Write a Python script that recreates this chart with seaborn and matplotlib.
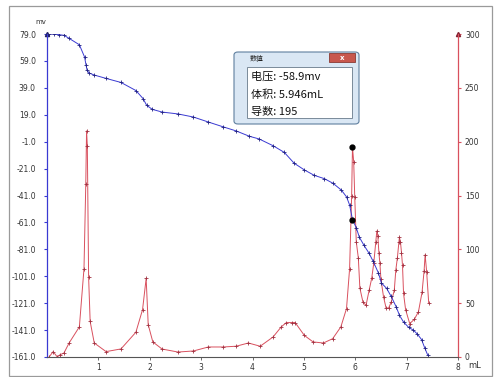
import numpy as np
import pandas as pd
import matplotlib
matplotlib.use("Agg")
import matplotlib.pyplot as plt
from matplotlib.patches import Rectangle, FancyBboxPatch
import seaborn as sns

# ---- data ----
vol_blue = [0.045, 0.14, 0.24, 0.33, 0.42, 0.63, 0.73, 0.76, 0.78, 0.82, 0.92, 1.15, 1.44,
            1.73, 1.87, 1.94, 2.05, 2.24, 2.55, 2.85, 3.14, 3.43, 3.68, 3.94, 4.13, 4.40,
            4.62, 4.81, 5.01, 5.20, 5.40, 5.57, 5.73, 5.83, 5.89, 5.946, 6.02, 6.08, 6.17,
            6.27, 6.35, 6.45, 6.51, 6.61, 6.70, 6.80, 6.86, 6.94, 7.04, 7.13, 7.21, 7.29,
            7.35, 7.41]
mv_blue = [79.0, 79.0, 78.5, 78.0, 76.0, 71.0, 62.0, 56.0, 52.0, 50.0, 48.5, 46.0, 43.0,
           37.0, 31.0, 26.0, 23.0, 21.0, 19.6, 17.3, 13.6, 10.0, 7.0, 3.0, 1.0, -4.0,
           -9.0, -17.0, -22.0, -26.0, -28.5, -32.0, -37.0, -42.0, -48.0, -58.9, -65.0, -72.0, -78.0,
           -84.0, -90.0, -98.5, -106.0, -110.0, -116.0, -124.0, -130.0, -135.0, -139.0, -141.0, -144.0, -148.0,
           -154.0, -159.5]

vol_red = [0.04, 0.12, 0.20, 0.25, 0.33, 0.43, 0.63, 0.72, 0.755, 0.77, 0.785, 0.81, 0.84,
           0.92, 1.15, 1.44, 1.73, 1.86, 1.93, 1.97, 2.06, 2.24, 2.55, 2.85, 3.14, 3.43,
           3.68, 3.92, 4.15, 4.40, 4.56, 4.66, 4.76, 4.83, 5.01, 5.18, 5.38, 5.56, 5.72,
           5.83, 5.89, 5.93, 5.946, 5.97, 5.99, 6.02, 6.06, 6.09, 6.15, 6.21, 6.27, 6.32,
           6.36, 6.40, 6.42, 6.44, 6.46, 6.48, 6.50, 6.55, 6.60, 6.65, 6.70, 6.76, 6.79,
           6.82, 6.85, 6.86, 6.88, 6.90, 6.92, 6.94, 6.98, 7.06, 7.15, 7.23, 7.30, 7.34,
           7.36, 7.39, 7.43]
deriv_red = [0, 5, 0, 2, 3.7, 13, 28, 82, 161, 210, 196, 74, 33,
             13, 5, 7.5, 23, 44, 73, 30, 14, 7.4, 4.6, 5.6, 9.3, 9.3,
             10, 13, 10, 18.6, 28, 32, 32, 32, 20, 14, 13, 17, 28,
             45, 82, 150, 195, 181, 149, 107, 92, 64, 51, 48, 62, 73,
             87, 107, 117, 112, 97, 87, 72, 56, 45.5, 45.5, 51, 62, 81,
             92, 107, 111, 107, 97, 85, 59, 44, 31, 35, 42, 60, 80,
             95, 79, 50]

left_ticks = [79.0, 59.0, 39.0, 19.0, -1.0, -21.0, -41.0, -61.0, -81.0, -101.0, -121.0, -141.0, -161.0]
right_ticks = [0, 50, 100, 150, 200, 250, 300]
x_ticks = [1, 2, 3, 4, 5, 6, 7, 8]

sel_volume = 5.946
sel_voltage = -58.9
sel_deriv = 195

info_lines = ["电压: -58.9mv", "体积: 5.946mL", "导数: 195"]

df_blue = pd.DataFrame({"vol": vol_blue, "mv": mv_blue})
df_red = pd.DataFrame({"vol": vol_red, "d": deriv_red})

sns.set_theme(style="white")
plt.rcParams["font.family"] = ["DejaVu Sans"]

W, H = 495, 377
fig = plt.figure(figsize=(W / 100, H / 100), dpi=100)
fig.patch.set_facecolor("white")

def fx(px):
    return px / W

def fy(py):
    return 1 - py / H

ax = fig.add_axes([fx(47), fy(357), fx(458) - fx(47), fy(34) - fy(357)])
ax2 = ax.twinx()
ax.set_zorder(ax2.get_zorder() + 1)
ax.patch.set_visible(False)

blue = "#3a3ad2"
red = "#d9505e"

sns.lineplot(data=df_red, x="vol", y="d", ax=ax2, color=red, lw=0.7, sort=False,
             marker="+", markersize=2.5, markeredgewidth=0.6, markeredgecolor="#a03040", estimator=None)
sns.lineplot(data=df_blue, x="vol", y="mv", ax=ax, color=blue, lw=0.7, sort=False,
             marker="+", markersize=2.5, markeredgewidth=0.6, markeredgecolor="#202080", estimator=None)

ax.plot([sel_volume], [sel_voltage], "o", color="black", ms=3.5, zorder=10)
ax2.plot([sel_volume], [sel_deriv], "o", color="black", ms=3.5, zorder=10)

ax.set_xlim(0, 8)
ax.set_ylim(-161, 79)
ax2.set_ylim(0, 300)

ax.set_xticks(x_ticks)
ax.set_xticklabels([str(t) for t in x_ticks])
ax.set_yticks(left_ticks)
ax.set_yticklabels([f"{t:.1f}" for t in left_ticks])
ax2.set_yticks(right_ticks)
ax2.set_yticklabels([str(t) for t in right_ticks])

for a in (ax, ax2):
    a.set_xlabel("")
    a.set_ylabel("")
    a.grid(False)
    a.spines["top"].set_visible(False)

ax.spines["left"].set_color(blue)
ax.spines["left"].set_linewidth(0.9)
ax.spines["right"].set_visible(False)
ax.spines["bottom"].set_color("#555555")
ax.spines["bottom"].set_linewidth(0.8)
ax2.spines["right"].set_color(red)
ax2.spines["right"].set_linewidth(0.9)
ax2.spines["left"].set_visible(False)
ax2.spines["bottom"].set_visible(False)

ax.tick_params(axis="y", length=2, width=0.8, color=blue, labelsize=5.5, labelcolor="#333333", pad=6, left=True)
ax.tick_params(axis="x", length=2, width=0.6, color="#555555", labelsize=5.5, labelcolor="#333333", pad=2, bottom=True)
ax2.tick_params(axis="y", length=2, width=0.8, color=red, labelsize=5.5, labelcolor="#333333", pad=3, right=True)

# axis arrows and unit labels
ax.plot([0], [1], marker="^", color="#202060", ms=3, transform=ax.transAxes, clip_on=False)
ax2.plot([1], [1], marker="^", color="#802030", ms=3, transform=ax2.transAxes, clip_on=False)
fig.text(fx(41), fy(22), "mv", fontsize=5, color="#333333", ha="center", va="center")
fig.text(fx(468), fy(366), "mL", fontsize=6, color="#333333", ha="left", va="center")

# outer frame
fig.add_artist(Rectangle((fx(9), fy(376)), fx(492) - fx(9), fy(6) - fy(376),
                         transform=fig.transFigure, fill=False, edgecolor="#9a9a9a", lw=0.9))

# info dialog
dlg = FancyBboxPatch((fx(234), fy(124)), fx(359) - fx(234), fy(52) - fy(124),
                     boxstyle="round,pad=0,rounding_size=0.008", transform=fig.transFigure,
                     facecolor="#dae7f4", edgecolor="#5f7f9f", lw=0.8, zorder=20)
fig.add_artist(dlg)
fig.add_artist(Rectangle((fx(329), fy(62)), fx(355) - fx(329), fy(53) - fy(62),
                         transform=fig.transFigure, facecolor="#c8574d", edgecolor="#8a3a34", lw=0.6, zorder=21))
fig.text(fx(342), fy(57.5), "x", fontsize=5, color="white", ha="center", va="center", zorder=22, fontweight="bold")
fig.text(fx(250), fy(59), "数值", fontsize=5, color="#222222", ha="left", va="center", zorder=22,
         family=["Noto Sans CJK SC", "DejaVu Sans"])
fig.add_artist(Rectangle((fx(247), fy(118)), fx(352) - fx(247), fy(67) - fy(118),
                         transform=fig.transFigure, facecolor="white", edgecolor="#7a8a9a", lw=0.7, zorder=21))
for i, line in enumerate(info_lines):
    fig.text(fx(251), fy(77 + 17.5 * i), line, fontsize=8, color="#111111", ha="left", va="center",
             zorder=22, family=["Noto Sans CJK SC", "DejaVu Sans"])

fig.savefig("out.png", dpi=100)
